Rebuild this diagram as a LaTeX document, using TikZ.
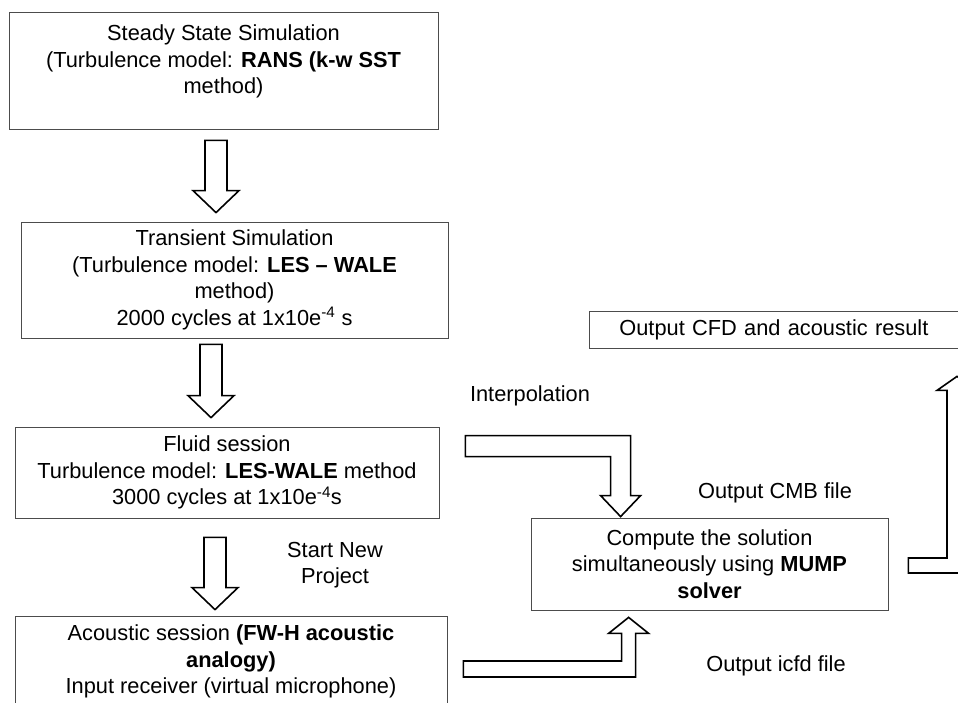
\documentclass[tikz,border=0pt]{standalone}
\usepackage{fontspec}
\setmainfont{Liberation Sans}
\usetikzlibrary{calc}
\tikzset{
  box/.style={draw=black!70, line width=0.8pt, align=center, inner sep=0pt},
  blockarrow/.style={draw=black, line width=1.6pt, fill=white},
  tag/.style={align=center, inner sep=0pt},
}
\begin{document}
\begin{tikzpicture}[x=1pt, y=1pt, font=\fontsize{21.8}{26.5}\selectfont]
\useasboundingbox (0,0) rectangle (958,702);
\clip (0,0) rectangle (958,702);
\fill[white] (0,0) rectangle (958,702);

% the four sessions on the left
\node[box, minimum width=429pt, minimum height=117pt, label={[tag, anchor=north, yshift=-13pt]north:{Steady State Simulation\\(Turbulence model: \textbf{RANS (k-w SST}\\method)}}] (steady) at (223.5,631.5) {};
\node[box, minimum width=427pt, minimum height=116pt] (transient) at (234.5,422) {Transient Simulation\\(Turbulence model: \textbf{LES \textendash{} WALE}\\method)\\2000 cycles at 1x10e\textsuperscript{-4} s};
\node[box, minimum width=424pt, minimum height=91pt] (fluid) at (227,229.5) {Fluid session\\Turbulence model: \textbf{LES-WALE} method\\3000 cycles at 1x10e\textsuperscript{-4}s};
\node[box, minimum width=432pt, minimum height=91pt] (acoustic) at (231,40.5) {Acoustic session \textbf{(FW-H acoustic}\\\textbf{analogy)}\\Input receiver (virtual microphone)};

% solver and result
\node[box, minimum width=357pt, minimum height=92pt] (compute) at (709.5,138) {Compute the solution\\simultaneously using \textbf{MUMP}\\\textbf{solver}};
\node[box, anchor=west, minimum height=37pt, text width=340pt, align=left, inner xsep=30pt] (output) at (589,372.5) {Output CFD and acoustic result};

\node[tag] (interp) at (530,306) {Interpolation};
\node[tag] (newproject) at (335,137) {Start New\\Project};
\node[tag] (cmb) at (775,209) {Output CMB file};
\node[tag] (icfd) at (776,36) {Output icfd file};

% hollow arrows down the left column
\foreach \a/\b/\cx/\ga/\gb in {steady/transient/216/11/9, transient/fluid/211/6/9, fluid/acoustic/215/19/6}
  \draw[blockarrow] let \p1=(\a.south), \p2=(\b.north) in
    (\cx-11,\y1-\ga) -- (\cx+11,\y1-\ga) -- (\cx+11,\y2+\gb+22) -- (\cx+23,\y2+\gb+22)
    -- (\cx,\y2+\gb) -- (\cx-23,\y2+\gb+22) -- (\cx-11,\y2+\gb+22) -- cycle;

% elbow arrows
\draw[blockarrow] let \p1=(fluid.north east), \p2=(compute.north west) in
  (\x1+26,\y1-9) -- (\x2+100,\y1-9) -- (\x2+100,\y2+22) -- (\x2+110,\y2+22) -- (\x2+90,\y2+1)
  -- (\x2+70,\y2+22) -- (\x2+80,\y2+22) -- (\x2+80,\y1-30) -- (\x1+26,\y1-30) -- cycle;
\draw[blockarrow] let \p1=(acoustic.east), \p2=(compute.south west) in
  (\x1+16,\y1+0.5) -- (\x2+91,\y1+0.5) -- (\x2+91,\y2-23) -- (\x2+78,\y2-23) -- (\x2+98,\y2-7)
  -- (\x2+118,\y2-23) -- (\x2+105,\y2-23) -- (\x2+105,\y1-15.5) -- (\x1+16,\y1-15.5) -- cycle;
\draw[blockarrow] let \p1=(compute.east), \p2=(output.south west) in
  (\x1+20,\y1+6) -- (\x2+358,\y1+6) -- (\x2+358,\y2-42) -- (\x2+348,\y2-42) -- (\x2+368,\y2-28)
  -- (\x2+388,\y2-42) -- (\x2+378,\y2-42) -- (\x2+378,\y1-9) -- (\x1+20,\y1-9) -- cycle;

\end{tikzpicture}
\end{document}
